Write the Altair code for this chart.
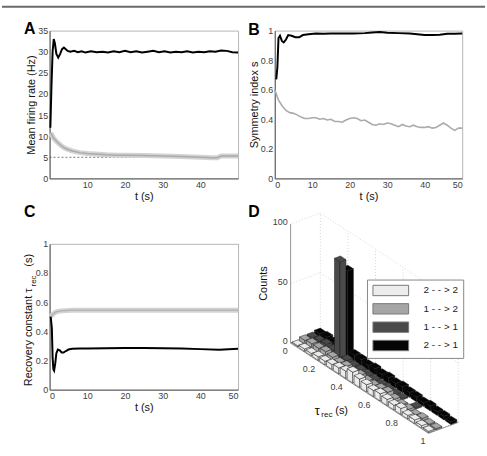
import altair as alt
import pandas as pd

FONT = "Liberation Sans"
LAB = "#404040"

# ---------------- Panel A : mean firing rate ----------------
tA_exc = [0.2, 0.5, 0.8, 1.1, 1.4, 1.8, 2.3, 2.8, 3.3, 3.8, 4.3, 4.8, 5.5, 6.5, 7.5, 8.5, 9.5, 11, 12.5, 14,
          15.5, 17, 18.5, 20, 21.5, 23, 24.5, 26, 27.5, 29, 30.5, 32, 33.5, 35, 36.5, 38, 39.5, 41, 42.5, 44,
          45.5, 47, 48.5, 50]
rateA_exc = [12, 22, 30, 33, 32, 29.5, 28.6, 29.5, 30.6, 31.0, 30.6, 30.2, 30.0, 30.2, 29.9, 30.1, 29.8, 30.1, 29.9, 30.0,
             29.8, 30.1, 29.9, 30.2, 29.9, 30.1, 29.8, 30.0, 30.2, 29.9, 30.1, 29.8, 30.0, 29.9, 30.1, 29.8, 30.0, 29.9, 30.1, 30.0,
             30.3, 30.2, 29.9, 29.8]
tA_inh = [0.3, 1, 2, 3, 4, 5, 6, 8, 10, 12, 15, 18, 20, 25, 30, 35, 40, 43, 44.5, 45.5, 47, 50]
rateA_inh = [10.8, 9.6, 8.6, 7.8, 7.2, 6.8, 6.5, 6.1, 5.9, 5.8, 5.6, 5.5, 5.5, 5.4, 5.3, 5.2, 5.0, 4.9, 4.9, 5.3, 5.3, 5.3]
rateA_ref = [5]
A_xticks = [10, 20, 30, 40]
A_yticks = [0, 5, 10, 15, 20, 25, 30, 35]

# ---------------- Panel B : symmetry index ----------------
tB_exc = [0.4, 0.7, 1.0, 1.4, 1.9, 2.4, 3.0, 3.6, 4.5, 5.5, 6.5, 7.5, 9, 11, 13, 15, 18, 21, 24, 26,
          28, 30, 33, 36, 38, 40, 42, 44, 46, 48, 50]
symB_exc = [0.67, 0.75, 0.95, 0.965, 0.93, 0.92, 0.94, 0.97, 0.965, 0.955, 0.955, 0.97, 0.975, 0.98, 0.978, 0.98,
            0.98, 0.98, 0.983, 0.987, 0.99, 0.986, 0.983, 0.98, 0.975, 0.97, 0.97, 0.972, 0.978, 0.978, 0.98]
tB_inh = [0, 1, 2, 3, 4, 5, 6, 7, 8, 9, 10, 11, 12, 13, 14, 15, 16, 17, 18, 19, 20, 21, 22, 23, 24, 25,
          26, 27, 28, 29, 30, 31, 32, 33, 34, 35, 36, 37, 38, 39, 40, 41, 42, 43, 44, 45, 46, 47, 48, 49, 50]
symB_inh = [0.60, 0.53, 0.49, 0.46, 0.445, 0.44, 0.43, 0.415, 0.405, 0.405, 0.41, 0.41, 0.40, 0.405, 0.395,
            0.40, 0.385, 0.385, 0.38, 0.395, 0.405, 0.41, 0.405, 0.39, 0.395, 0.38, 0.365, 0.36, 0.37, 0.365,
            0.375, 0.37, 0.36, 0.35, 0.365, 0.355, 0.35, 0.36, 0.35, 0.345, 0.345, 0.35, 0.34, 0.345, 0.36,
            0.375, 0.36, 0.34, 0.325, 0.34, 0.34]
B_xticks = [0, 10, 20, 30, 40, 50]
B_yticks = [0, 0.2, 0.4, 0.6, 0.8, 1]

# ---------------- Panel C : recovery constant ----------------
tC_exc = [0.3, 0.6, 0.8, 1.0, 1.2, 1.5, 1.8, 2.2, 2.7, 3.2, 3.7, 4.3, 5, 6, 8, 10, 15, 20, 25, 30, 35, 40, 45, 50]
recC_exc = [0.50, 0.42, 0.22, 0.14, 0.13, 0.18, 0.25, 0.275, 0.27, 0.255, 0.255, 0.265, 0.275, 0.28, 0.282,
            0.283, 0.284, 0.285, 0.285, 0.284, 0.282, 0.278, 0.274, 0.28]
tC_inh = [0.3, 0.6, 1, 1.5, 2, 3, 4, 6, 10, 20, 30, 40, 50]
recC_inh = [0.50, 0.51, 0.52, 0.53, 0.535, 0.54, 0.542, 0.545, 0.545, 0.545, 0.545, 0.545, 0.545]
C_xticks = [0, 10, 20, 30, 40, 50]
C_yticks = [0, 0.2, 0.4, 0.6, 0.8, 1]

# ---------------- Panel D : 3-D histogram ----------------
tau_bins = [0.025, 0.075, 0.125, 0.175, 0.225, 0.275, 0.325, 0.375, 0.425, 0.475,
            0.525, 0.575, 0.625, 0.675, 0.725, 0.775, 0.825, 0.875, 0.925, 0.975]
series_names = ["2 - - > 2", "1 - - > 2", "1 - - > 1", "2 - - > 1"]
series_colors = ["#ececec", "#a6a6a6", "#4a4a4a", "#050505"]
counts_22 = [1, 2, 2, 3, 3, 4, 5, 6, 9, 7, 6, 5, 6, 5, 4, 5, 3, 3, 2, 1]
counts_12 = [3, 4, 4, 5, 4, 3, 4, 3, 4, 3, 3, 4, 5, 3, 2, 2, 1, 2, 1, 1]
counts_11 = [3, 4, 5, 4, 82, 3, 2, 2, 1, 1, 1, 1, 1, 1, 0, 1, 0, 0, 0, 0]
counts_21 = [4, 5, 4, 4, 72, 5, 5, 4, 5, 4, 5, 4, 5, 4, 4, 3, 4, 3, 3, 2]
series_counts = [counts_22, counts_12, counts_11, counts_21]
tau_ticks = [0, 0.2, 0.4, 0.6, 0.8, 1]
count_ticks = [0, 50, 100]
count_grid = [50, 100]
depth_max = 4

# oblique projection used for panel D (pixels per unit)
OX, OY = 16, 100
UX, UY = 139, 91
VX, VY = 7.5, -2.75
WZ = 1.2
BAR_HALF_T = 0.02
BAR_HALF_D = 0.4


def px(t, d):
    return f"{OX} + {UX}*datum.{t} + {VX}*datum.{d}"


def py(t, d, c):
    return f"{OY} + {UY}*datum.{t} + ({VY})*datum.{d} - {WZ}*datum.{c}"


def label(txt, x, y, size=16, weight="bold", angle=0, align="center", color="#000"):
    kw = dict(font=FONT, fontSize=size, fontWeight=weight, align=align, baseline="middle", color=color)
    if angle:
        kw["angle"] = angle
    return alt.Chart(pd.DataFrame({"lab": [txt]})).mark_text(**kw).encode(
        text="lab:N", x=alt.value(x), y=alt.value(y))


def tax(values, title):
    return alt.Axis(values=values, title=title, format="~r")


# ---------- A ----------
xA = alt.X("t:Q", scale=alt.Scale(domain=[0, 50], nice=False), axis=tax(A_xticks, "t (s)"))
yA = alt.Y("v:Q", scale=alt.Scale(domain=[0, 35], nice=False), axis=tax(A_yticks, "Mean firing rate (Hz)"))
dA_inh = pd.DataFrame({"t": tA_inh, "v": rateA_inh})
dA_exc = pd.DataFrame({"t": tA_exc, "v": rateA_exc})
dA_ref = pd.DataFrame({"v": rateA_ref})

top_rule = alt.Chart(pd.DataFrame({"k": [0]})).mark_rule(color="#6a6a6a", strokeWidth=2).encode(
    x=alt.value(-48), x2=alt.value(439), y=alt.value(-24))
chartA = alt.layer(
    top_rule,
    alt.Chart(dA_ref).mark_rule(color="#555", strokeWidth=0.8, strokeDash=[2, 2]).encode(y=yA),
    alt.Chart(dA_inh).mark_line(color="#d3d3d3", strokeWidth=5).encode(x=xA, y=yA),
    alt.Chart(dA_inh).mark_line(color="#ababab", strokeWidth=1.5).encode(x=xA, y=yA),
    alt.Chart(dA_exc).mark_line(color="#000", strokeWidth=2).encode(x=xA, y=yA),
    label("A", -20, -2),
).properties(width=190, height=149)

# ---------- B ----------
xB = alt.X("t:Q", scale=alt.Scale(domain=[0, 50], nice=False), axis=tax(B_xticks, "t (s)"))
yB = alt.Y("v:Q", scale=alt.Scale(domain=[0, 1], nice=False), axis=tax(B_yticks, "Symmetry index s"))
dB_inh = pd.DataFrame({"t": tB_inh, "v": symB_inh})
dB_exc = pd.DataFrame({"t": tB_exc, "v": symB_exc})
chartB = alt.layer(
    alt.Chart(dB_inh).mark_line(color="#ababab", strokeWidth=1.6).encode(x=xB, y=yB),
    alt.Chart(dB_exc).mark_line(color="#000", strokeWidth=2).encode(x=xB, y=yB),
    label("B", -21, -1),
).properties(width=189, height=149)

# ---------- C ----------
xC = alt.X("t:Q", scale=alt.Scale(domain=[0, 50], nice=False), axis=tax(C_xticks, "t (s)"))
yC = alt.Y("v:Q", scale=alt.Scale(domain=[0, 1], nice=False),
           axis=alt.Axis(values=C_yticks, title=None, format="~r"))
dC_inh = pd.DataFrame({"t": tC_inh, "v": recC_inh})
dC_exc = pd.DataFrame({"t": tC_exc, "v": recC_exc})
chartC = alt.layer(
    alt.Chart(dC_inh).mark_line(color="#d3d3d3", strokeWidth=5).encode(x=xC, y=yC),
    alt.Chart(dC_inh).mark_line(color="#b0b0b0", strokeWidth=1.3).encode(x=xC, y=yC),
    alt.Chart(dC_exc).mark_line(color="#000", strokeWidth=2).encode(x=xC, y=yC),
    label("Recovery constant  \u03c4", -21, 45, size=11, weight="normal", angle=270, align="right", color="#111"),
    label("rec", -16, 43, size=8, weight="normal", angle=270, align="left", color="#111"),
    label("(s)", -21, 23, size=11, weight="normal", angle=270, align="left", color="#111"),
    label("C", -20, -32),
).properties(width=190, height=147)

# ---------- D ----------
poly_rows = []
pid = 0
for k in [3, 2, 1, 0]:
    for i, tc in enumerate(tau_bins):
        h = series_counts[k][i]
        if h <= 0:
            continue
        t0, t1 = tc - BAR_HALF_T, tc + BAR_HALF_T
        d0, d1 = k + 0.5 - BAR_HALF_D, k + 0.5 + BAR_HALF_D
        faces = [
            [(t0, d0, 0), (t1, d0, 0), (t1, d0, h), (t0, d0, h), (t0, d0, 0)],
            [(t1, d0, 0), (t1, d1, 0), (t1, d1, h), (t1, d0, h), (t1, d0, 0)],
            [(t0, d0, h), (t1, d0, h), (t1, d1, h), (t0, d1, h), (t0, d0, h)],
        ]
        for f in faces:
            for j, (t, d, c) in enumerate(f):
                poly_rows.append({"poly": f"p{pid:04d}", "vi": j, "tau": t, "d": d, "c": c,
                                  "series": series_names[k]})
            pid += 1
dPoly = pd.DataFrame(poly_rows)

grid_rows = []
for t in tau_ticks:
    grid_rows.append((t, depth_max, 0, t, depth_max, 100))
    grid_rows.append((t, 0, 0, t, depth_max, 0))
for c in count_grid:
    grid_rows.append((0, depth_max, c, 1, depth_max, c))
    grid_rows.append((0, 0, c, 0, depth_max, c))
grid_rows.append((0, depth_max, 0, 1, depth_max, 0))
dGrid = pd.DataFrame(grid_rows, columns=["t0", "d0", "c0", "t1", "d1", "c1"])
axis_rows = [(0, 0, 0, 0, 0, 100), (0, 0, 0, 1, 0, 0), (1, 0, 0, 1, depth_max, 0), (0, 0, 0, 0, depth_max, 0)]
dAxis = pd.DataFrame(axis_rows, columns=["t0", "d0", "c0", "t1", "d1", "c1"])

xs = alt.Scale(domain=[0, 189], nice=False, zero=False)
ys = alt.Scale(domain=[0, 200], nice=False, zero=False, reverse=True)


def seg_layer(df, **mk):
    return alt.Chart(df).transform_calculate(
        X=px("t0", "d0"), Y=py("t0", "d0", "c0"), X2=px("t1", "d1"), Y2=py("t1", "d1", "c1")
    ).mark_rule(**mk).encode(
        x=alt.X("X:Q", scale=xs, axis=None), y=alt.Y("Y:Q", scale=ys, axis=None),
        x2="X2:Q", y2="Y2:Q")


RECT_PATH = "M-3.27,-0.95H3.27V0.95H-3.27Z"
color_scale = alt.Scale(domain=series_names, range=series_colors)
bars = alt.Chart(dPoly).transform_calculate(
    X=px("tau", "d"), Y=py("tau", "d", "c")
).mark_line(filled=True, stroke="#1a1a1a", strokeWidth=0.5, strokeJoin="round").encode(
    x=alt.X("X:Q", scale=xs, axis=None),
    y=alt.Y("Y:Q", scale=ys, axis=None),
    color=alt.Color("series:N", scale=color_scale, legend=alt.Legend(
        title=None, orient="none", legendX=320, legendY=251, direction="vertical",
        symbolType=RECT_PATH, symbolSize=121, symbolStrokeColor="#777", symbolStrokeWidth=1,
        symbolOffset=13, labelOffset=27,
        labelFont=FONT, labelFontSize=10, labelColor="#222", padding=5, rowPadding=2.5,
        strokeColor="#888", fillColor="white")),
    detail="poly:N",
    order="vi:Q",
)

dCountLab = pd.DataFrame({"c": count_ticks, "tau": [0] * len(count_ticks), "d": [0] * len(count_ticks)})
count_labels = alt.Chart(dCountLab).transform_calculate(
    X=px("tau", "d"), Y=py("tau", "d", "c")
).mark_text(font=FONT, fontSize=9, color=LAB, align="right", baseline="middle", dx=-3, dy=-2).encode(
    x=alt.X("X:Q", scale=xs, axis=None), y=alt.Y("Y:Q", scale=ys, axis=None),
    text=alt.Text("c:Q", format="~r"))

dTauLab = pd.DataFrame({"tau": tau_ticks, "d": [0] * len(tau_ticks), "c": [0] * len(tau_ticks)})
tau_labels = alt.Chart(dTauLab).transform_calculate(
    X=px("tau", "d"), Y=py("tau", "d", "c")
).mark_text(font=FONT, fontSize=9, color=LAB, align="right", baseline="middle", dx=-3, dy=8).encode(
    x=alt.X("X:Q", scale=xs, axis=None), y=alt.Y("Y:Q", scale=ys, axis=None),
    text=alt.Text("tau:Q", format="~r"))

chartD = alt.layer(
    seg_layer(dGrid, color="#c4c4c4", strokeWidth=0.7, strokeDash=[1, 2]),
    seg_layer(dAxis, color="#777", strokeWidth=0.8),
    bars,
    count_labels,
    tau_labels,
    label("Counts", -11, 40, size=11, weight="normal", angle=270, color="#111"),
    label("\u03c4", 43, 169, size=13, weight="normal", color="#111"),
    label("rec", 47, 173, size=8, weight="normal", align="left", color="#111"),
    label("(s)", 61, 169, size=11, weight="normal", align="left", color="#111"),
    label("D", -21, -32),
).properties(width=189, height=200, view=alt.ViewBackground(strokeOpacity=0))

chart = alt.concat(
    chartA, chartB, chartC, chartD, columns=2,
    spacing={"row": 66, "column": 37}, bounds="flush", align="each",
).properties(
    padding={"left": 0, "top": 3, "right": 0, "bottom": 5}, background="white"
).configure(font=FONT).configure_view(stroke="#b5b5b5", strokeWidth=1).configure_axis(
    labelFont=FONT, labelFontSize=9, labelColor=LAB, titleFont=FONT, titleFontSize=11,
    titleFontWeight="normal", titleColor="#111", ticks=False, grid=False, domainColor="#555",
    domainWidth=1, labelPadding=2, titlePadding=1,
)

chart.save("out.html", embed_options={"renderer": "svg", "actions": False})
